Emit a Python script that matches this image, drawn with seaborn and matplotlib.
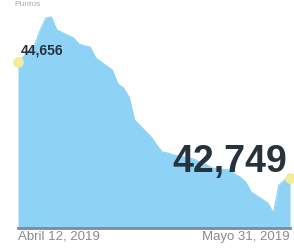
import pandas as pd
import numpy as np
import matplotlib.pyplot as plt
import seaborn as sns
from matplotlib import font_manager

# IPC close, trading days Apr 12 - May 31, 2019
dates = pd.bdate_range('2019-04-12', '2019-05-31')
values = [44656, 44936, 45182, 45379, 45396, 45182, 45051, 44952, 44919, 44903,
          44722, 44524, 44294, 44229, 44081, 43702, 43423, 43292, 43176, 43160,
          43127, 43078, 43045, 42996, 42963, 42913, 42880, 42815, 42765, 42683,
          42519, 42338, 42174, 42634, 42716, 42749]
tick_labels = ['Abril 12, 2019', 'Mayo 31, 2019']
first_label = '44,656'
last_label = '42,749'

df = pd.DataFrame({'fecha': dates, 'valor': values})

sns.set_style('white')
names = {f.name for f in font_manager.fontManager.ttflist}
if 'DejaVu Sans Condensed' in names:
    big_font, big_size = 'DejaVu Sans Condensed', 30
else:
    big_font, big_size = 'Liberation Sans', 27
plt.rcParams['font.family'] = ['Liberation Sans', 'DejaVu Sans']

fig = plt.figure(figsize=(2.94, 2.50), dpi=100)
ax = fig.add_axes([18/294, 22/250, 272/294, 228/250])

fill = '#8ed3f5'
ax.fill_between(df['fecha'], df['valor'], 41927, color=fill, lw=0)
sns.lineplot(data=df, x='fecha', y='valor', ax=ax, color=fill, lw=0.8)

ax.set_xlim(dates[0], dates[-1])
ax.set_ylim(41927, 45675)
ax.set_xlabel('')
ax.set_ylabel('')
ax.set_yticks([])
ax.set_xticks([dates[0], dates[-1]])
ax.set_xticklabels(tick_labels, fontsize=9.5, color='#8a8a8a')
ax.get_xticklabels()[0].set_ha('left')
ax.get_xticklabels()[1].set_ha('right')
ax.tick_params(axis='x', length=0, pad=2)
for s in ['top', 'right', 'left']:
    ax.spines[s].set_visible(False)
ax.spines['bottom'].set_color('#7d8b96')
ax.spines['bottom'].set_linewidth(2)

# end points
ax.scatter([dates[0], dates[-1]], [values[0], values[-1]], s=60,
           color='#f3eb9a', zorder=5, clip_on=False, lw=0)

ax.text(dates[0] + pd.Timedelta(days=0.5), values[0] + 80, first_label,
        fontsize=10, fontweight='bold', color='#26323c',
        va='bottom', ha='left')
ax.text(dates[-1] - pd.Timedelta(hours=12), values[-1] - 40, last_label,
        fontsize=big_size, fontweight='bold', color='#26323c',
        family=[big_font, 'DejaVu Sans'], va='bottom', ha='right')

fig.text(0.05, 0.998, 'Puntos', fontsize=6, color='#aaaaaa', va='top', ha='left')

fig.savefig('out.png', dpi=100)
